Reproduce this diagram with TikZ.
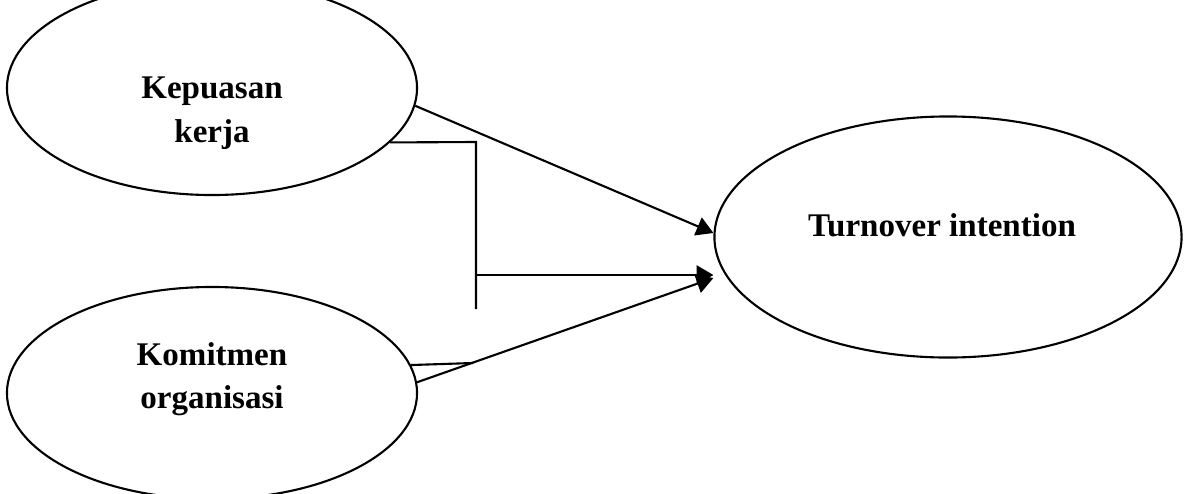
\documentclass[tikz,border=0pt]{standalone}
\usepackage{fontspec}
\setmainfont{Liberation Serif}
\usepackage{tikz}
\usetikzlibrary{arrows.meta,shapes.geometric,calc}

\begin{document}
\begin{tikzpicture}[x=0.025cm,y=-0.025cm,
  latent/.style={draw, ellipse, line width=1.5pt, inner sep=0pt},
  lbl/.style={align=center, font=\fontsize{23.5}{31}\selectfont\bfseries},
  arr/.style={line width=1.5pt, -{Triangle[length=0.42cm,width=0.48cm]}}]
\clip (0,0) rectangle (1189,493);
% variabel
\node[latent, minimum width=10.25cm, minimum height=5.35cm] (kepuasan) at (212,88) {};
\node[latent, minimum width=10.25cm, minimum height=5.3cm] (komitmen) at (212,393) {};
\node[latent, minimum width=11.675cm, minimum height=6.025cm] (turnover) at (948,237) {};
\node[lbl] (kepuasanlbl) at (212,113) {Kepuasan\\kerja};
\node[lbl] (komitmenlbl) at (212,379) {Komitmen\\organisasi};
\node[lbl] (turnoverlbl) at (942,225) {Turnover intention};
% moderasi
\coordinate (brktop) at (476,142);
\coordinate (brkmid) at (476,275);
\coordinate (brkbot) at (476,309);
\coordinate (komend) at (473,363);
\draw[line width=1.5pt] (kepuasan.-17) -- (brktop) -- (brkbot);
\draw[line width=1.5pt] (komitmen.8.7) -- (komend);
% panah
\draw[arr] (kepuasan.-5) -- ($(turnover.west)+(0,-4)$);
\draw[arr] (brkmid) -- (brkmid -| turnover.west);
\draw[arr] (komitmen.3) -- ($(turnover.west)+(0,41)$);
\end{tikzpicture}
\end{document}
